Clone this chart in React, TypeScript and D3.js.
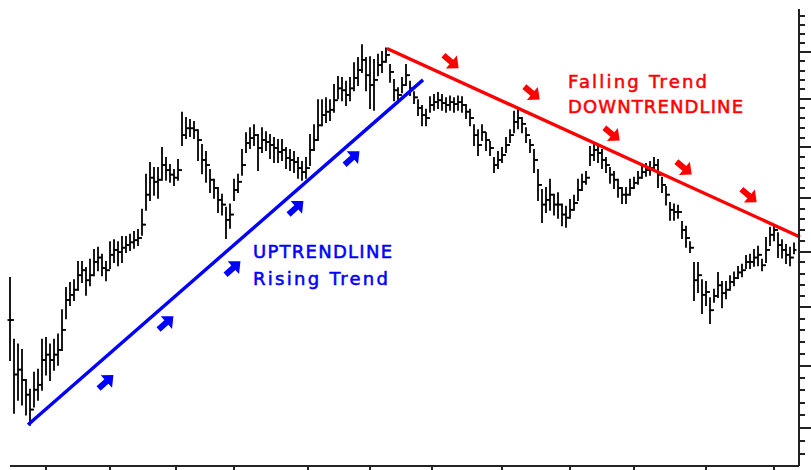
import React from 'react';
import * as d3 from 'd3';

// daily bars: high / low / close (open = previous close)
const highs = [
  205.2, 194.4, 193.6, 192.7, 187.7, 186.1, 188.9, 189.4, 194.4, 194.7,
  193.6, 194.4, 195.3, 199.5, 203.4, 204.3, 204.8, 208.1, 208.1, 207.0,
  208.5, 210.3, 210.7, 209.4, 208.1, 211.7, 212.1, 211.7, 212.7, 212.7,
  213.1, 213.6, 214.0, 217.8, 224.6, 226.9, 225.9, 225.9, 229.9, 227.9,
  226.5, 225.5, 227.5, 237.1, 236.0, 235.6, 235.2, 233.5, 230.5, 229.1,
  225.5, 223.6, 222.0, 220.7, 218.2, 218.8, 223.6, 224.6, 229.5, 232.9,
  233.9, 234.5, 232.5, 233.9, 233.1, 232.5, 231.9, 231.5, 231.5, 229.9,
  229.5, 229.1, 227.9, 227.1, 227.9, 232.5, 234.5, 239.7, 239.7, 240.1,
  239.7, 242.9, 244.6, 244.4, 243.6, 244.4, 247.6, 248.7, 251.5, 248.7,
  248.9, 248.3, 249.4, 250.0, 250.8, 247.2, 244.0, 242.2, 244.4, 247.2,
  243.6, 241.4, 239.7, 238.5, 237.7, 240.3, 240.8, 241.2, 240.8, 240.1,
  240.5, 240.1, 240.5, 240.3, 238.7, 237.7, 234.5, 233.5, 234.5, 232.9,
  231.1, 227.9, 229.1, 229.9, 231.9, 233.5, 237.3, 237.7, 236.0, 233.9,
  231.5, 229.5, 225.5, 221.6, 222.0, 223.6, 220.7, 221.0, 218.8, 218.4,
  219.7, 220.5, 223.6, 224.6, 225.1, 230.1, 230.5, 230.1, 229.5, 227.9,
  225.9, 225.1, 223.6, 222.0, 222.0, 223.6, 224.0, 225.1, 226.3, 226.7,
  227.1, 227.9, 227.5, 224.0, 222.2, 219.1, 218.8, 218.6, 215.5, 214.6,
  211.7, 207.9, 207.9, 204.8, 204.5, 201.6, 203.1, 206.1, 204.5, 204.5,
  205.5, 206.2, 207.2, 207.6, 209.2, 209.4, 210.3, 210.9, 208.5, 212.5,
  214.4, 214.6, 213.4, 212.1, 211.2, 210.7, 211.5,
];
const lows = [
  191.0, 182.4, 184.5, 183.7, 182.1, 180.5, 183.4, 184.5, 186.1, 188.6,
  187.7, 189.4, 190.2, 192.7, 198.1, 200.4, 201.3, 203.1, 204.5, 202.2,
  203.9, 205.7, 206.6, 205.7, 204.8, 207.0, 208.1, 207.5, 208.1, 209.9,
  210.3, 210.7, 211.2, 213.1, 217.8, 219.7, 220.7, 220.1, 223.6, 223.6,
  223.2, 222.6, 223.6, 230.5, 231.9, 232.3, 231.9, 227.5, 224.9, 223.2,
  221.2, 220.1, 217.4, 216.9, 212.5, 214.4, 219.7, 221.2, 224.6, 229.1,
  229.9, 230.5, 225.5, 229.1, 229.5, 227.9, 227.1, 227.1, 227.5, 225.9,
  225.5, 225.1, 224.0, 223.6, 224.0, 226.5, 229.5, 231.5, 234.5, 235.2,
  235.6, 237.3, 240.1, 239.7, 238.7, 239.7, 241.8, 242.9, 245.7, 241.8,
  238.1, 237.7, 245.0, 245.7, 247.9, 243.6, 239.7, 239.3, 241.4, 242.9,
  240.8, 239.1, 236.6, 234.5, 234.5, 237.3, 237.7, 238.1, 237.7, 237.3,
  237.7, 237.3, 237.7, 237.3, 236.0, 234.5, 230.5, 228.5, 231.5, 229.5,
  228.5, 225.1, 225.9, 227.1, 229.1, 231.1, 233.1, 233.9, 233.1, 231.1,
  229.1, 225.1, 219.7, 215.5, 217.4, 217.8, 216.9, 216.3, 214.9, 214.6,
  216.3, 217.8, 219.7, 221.6, 222.8, 226.5, 227.5, 227.1, 225.9, 225.1,
  223.0, 222.0, 220.3, 219.1, 219.1, 220.7, 222.0, 222.8, 224.0, 224.4,
  224.6, 225.5, 222.2, 221.2, 218.8, 215.9, 215.9, 216.3, 212.5, 210.9,
  209.9, 201.3, 202.7, 199.0, 200.4, 197.3, 201.0, 201.8, 200.0, 201.6,
  203.1, 203.9, 205.2, 205.5, 207.0, 207.0, 207.4, 207.5, 206.6, 208.1,
  211.2, 212.1, 209.0, 208.9, 207.9, 207.5, 209.7,
];
const closes = [
  197.8, 188.6, 189.4, 187.7, 185.3, 182.9, 186.1, 186.9, 191.0, 191.9,
  191.0, 191.9, 192.7, 196.1, 201.3, 202.2, 203.1, 205.7, 206.6, 204.8,
  205.7, 208.1, 208.9, 207.0, 206.6, 209.4, 210.3, 209.9, 210.7, 211.2,
  211.7, 212.1, 212.5, 215.0, 220.7, 224.0, 223.2, 223.6, 226.5, 225.5,
  224.6, 224.0, 225.5, 232.5, 233.9, 233.9, 233.5, 231.5, 227.5, 226.5,
  223.6, 222.0, 219.7, 218.8, 215.9, 216.9, 221.6, 223.2, 226.5, 230.9,
  231.9, 232.5, 229.9, 231.5, 231.1, 230.5, 229.9, 229.1, 229.5, 227.9,
  227.5, 227.1, 225.9, 225.1, 225.9, 229.5, 231.5, 234.5, 236.6, 237.3,
  237.7, 239.7, 242.2, 241.8, 240.8, 242.2, 244.4, 246.1, 248.3, 245.0,
  242.9, 244.0, 247.2, 247.9, 249.4, 245.7, 241.8, 240.8, 242.9, 245.0,
  242.2, 240.3, 238.1, 236.6, 236.0, 238.7, 239.3, 239.7, 239.1, 238.7,
  239.3, 238.9, 239.3, 238.7, 237.3, 236.0, 232.5, 230.5, 233.1, 231.5,
  229.9, 226.5, 227.5, 228.5, 230.5, 232.5, 235.2, 236.0, 234.8, 232.5,
  230.5, 227.5, 222.6, 218.8, 219.7, 220.7, 218.8, 218.8, 216.9, 216.3,
  217.8, 219.1, 221.6, 223.2, 224.0, 228.5, 229.5, 228.9, 227.5, 226.5,
  224.6, 223.6, 222.0, 220.7, 220.7, 222.0, 223.0, 224.0, 225.1, 225.5,
  225.9, 226.5, 224.6, 222.6, 220.7, 217.8, 217.4, 217.4, 214.0, 212.5,
  210.7, 204.8, 205.7, 202.2, 202.7, 199.5, 202.0, 203.9, 202.5, 203.1,
  204.5, 205.2, 206.2, 206.6, 208.1, 208.1, 208.9, 209.4, 207.5, 210.3,
  213.1, 214.0, 211.2, 210.3, 209.4, 208.9, 210.3,
];

// bar index where each month starts (bottom axis ticks)
const monthTicks = [9, 25, 41.5, 56, 74.5, 90, 105.5, 123, 140, 156, 174, 191];

// trend lines: [bar index, price]
const upTrend: [number, number][] = [[4.5, 180.5], [103.25, 244.0]];
const downTrend: [number, number][] = [[94.25, 250.8], [197.5, 212.7]];

// arrow markers along the trend lines
const upArrows: [number, number][] = [[24, 187.4], [39, 197.3], [55.75, 207.0], [71.5, 218.2], [85.5, 227.9]];
const downArrows: [number, number][] = [[110.25, 247.9], [130.5, 241.2], [150.5, 232.7], [168.5, 225.9], [184.75, 220.5]];

const upLabels = ['UPTRENDLINE', 'Rising Trend'];
const downLabels = ['Falling Trend', 'DOWNTRENDLINE'];

const width = 811;
const height = 470;
const axisX = 799;
const axisY = 466;

const App: React.FC = () => {
  const x = d3.scaleLinear().domain([0, highs.length - 1]).range([10, 794]);
  const y = d3.scaleLog().domain([174.1, 259.6]).range([axisY, 9]);
  const line = d3.line<[number, number]>().x(d => x(d[0])).y(d => y(d[1]));

  const priceTicks = d3.range(176, 260, 2);
  const arrowPath = 'M-10,-3 L0.5,-3 L0.5,-8.5 L10,0 L0.5,8.5 L0.5,3 L-10,3 Z';

  return (
    <svg width={width} height={height} style={{ position: 'fixed', left: 0, top: 0, background: '#fff' }}
      fontFamily="'DejaVu Sans', Verdana, sans-serif">
      <rect width={width} height={height} fill="#fff" />

      {/* OHLC bars */}
      <g stroke="#000" strokeWidth={1.8}>
        {highs.map((h, i) => {
          const cx = Math.round(x(i));
          const open = i > 0 ? closes[i - 1] : closes[i];
          return (
            <g key={i}>
              <line x1={cx} x2={cx} y1={y(h) - 1} y2={y(lows[i]) + 1} />
              <line x1={cx - 2.5} x2={cx} y1={y(open)} y2={y(open)} />
              <line x1={cx} x2={cx + 2.5} y1={y(closes[i])} y2={y(closes[i])} />
            </g>
          );
        })}
      </g>

      {/* trend lines */}
      <path d={line(upTrend) || ''} stroke="#0000ff" strokeWidth={3.4} fill="none" />
      <path d={line(downTrend) || ''} stroke="#ff0000" strokeWidth={3.4} fill="none" />

      {upArrows.map((d, i) => (
        <path key={'u' + i} d={arrowPath} fill="#0000ff"
          transform={`translate(${x(d[0])},${y(d[1])}) rotate(-42)`} />
      ))}
      {downArrows.map((d, i) => (
        <path key={'d' + i} d={arrowPath} fill="#ff0000"
          transform={`translate(${x(d[0])},${y(d[1])}) rotate(40)`} />
      ))}

      {/* labels */}
      <g fill="#0000ff" fontSize={18} stroke="#0000ff" strokeWidth={0.55}>
        <text x={x(60.75)} y={y(208.9)} textLength={139}>{upLabels[0]}</text>
        <text x={x(60.75)} y={y(204.0)} textLength={135}>{upLabels[1]}</text>
      </g>
      <g fill="#ff0000" fontSize={18} stroke="#ff0000" strokeWidth={0.55}>
        <text x={x(139.5)} y={y(242.2)} textLength={139}>{downLabels[0]}</text>
        <text x={x(139.5)} y={y(237.1)} textLength={175}>{downLabels[1]}</text>
      </g>

      {/* right price axis */}
      <g stroke="#222" strokeWidth={2} shapeRendering="crispEdges">
        <line x1={axisX} x2={axisX} y1={9} y2={axisY} />
        {priceTicks.map(v => (
          <line key={v} x1={axisX} x2={axisX + (v % 10 === 0 ? 12 : 6)} y1={Math.round(y(v))} y2={Math.round(y(v))} />
        ))}
        {/* bottom time axis */}
        <line x1={10} x2={axisX} y1={axisY} y2={axisY} />
        {monthTicks.map(t => (
          <line key={t} x1={Math.round(x(t))} x2={Math.round(x(t))} y1={axisY} y2={axisY + 5} />
        ))}
      </g>
    </svg>
  );
};

export default App;
